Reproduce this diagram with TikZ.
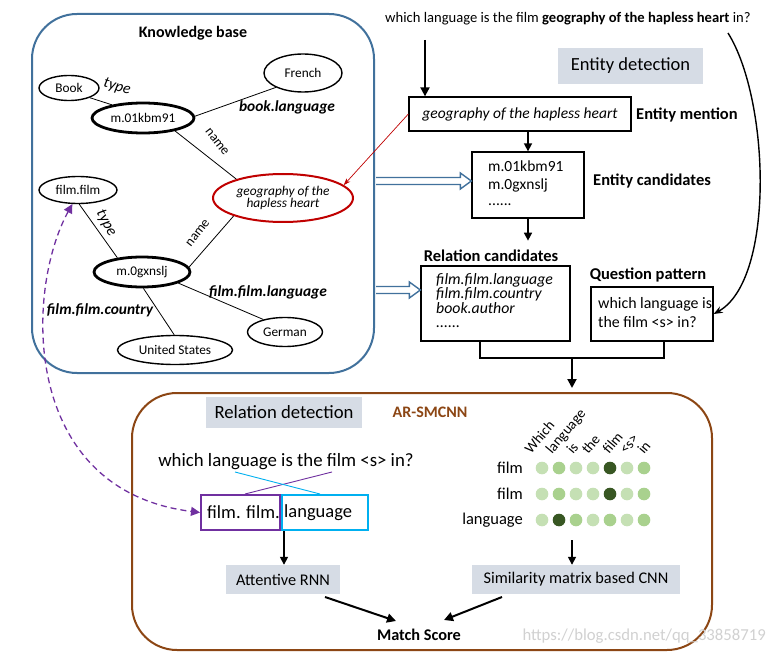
\documentclass[tikz,border=0pt]{standalone}
\usepackage{fontspec}
\setmainfont{Carlito}
\usetikzlibrary{shapes.geometric,arrows.meta,calc}
\newcommand\fsz[1]{\fontsize{#1}{#1}\selectfont}
\definecolor{kbblue}{RGB}{65,113,156}
\definecolor{brownline}{RGB}{140,70,20}
\definecolor{grayfill}{RGB}{214,220,229}
\definecolor{geored}{RGB}{192,0,0}
\definecolor{purp}{RGB}{112,48,160}
\definecolor{cyanb}{RGB}{0,176,240}
\definecolor{dlight}{RGB}{197,224,180}
\definecolor{dmed}{RGB}{169,209,142}
\definecolor{ddark}{RGB}{56,87,35}
\tikzset{
  ell/.style={ellipse,draw,line width=1.4,inner sep=0pt,font=\fsz{13.3}},
  thickell/.style={ell,line width=2.8},
  kbedge/.style={line width=0.8},
  blackbox/.style={draw,line width=1.3,inner sep=0pt},
  graybox/.style={fill=grayfill,inner sep=0pt},
  bigarrow/.style={line width=2,-{Triangle[length=9pt,width=9pt]}},
  midarrow/.style={line width=1.6,-{Triangle[length=8pt,width=8pt]}},
  hollow/.style={draw=kbblue,line width=1.4,fill=white},
  lbl/.style={font=\fsz{16.5}\bfseries,inner sep=0pt},
  edgelbl/.style={font=\fsz{15.4}\bfseries\itshape,inner sep=0pt},
}
\newcommand\hollowarrow[2]{%
  \filldraw[hollow] let \p1=(#1), \p2=(#2) in
   (\x1+1pt,\y1+3.5pt) -- (\x2-11pt,\y1+3.5pt) -- (\x2-11pt,\y1+8pt) -- (\x2,\y1)
   -- (\x2-11pt,\y1-8pt) -- (\x2-11pt,\y1-3.5pt) -- (\x1+1pt,\y1-3.5pt);}
\begin{document}
\begin{tikzpicture}[x=1pt,y=-1pt]
\useasboundingbox[fill=white] (0,0) rectangle (774,655);

% ---------------- Knowledge base ----------------
\node[draw=kbblue,line width=2,rounded corners=45,minimum width=342,minimum height=359,inner sep=0pt] (kb) at (203,193.5) {};
\node[font=\fsz{16}\bfseries,inner sep=0pt] (kbt) at (193,33) {Knowledge base};

\node[ell,minimum width=60,minimum height=25] (book) at (69,88) {Book};
\node[ell,minimum width=78,minimum height=38] (french) at (303,73) {French};
\node[thickell,minimum width=102,minimum height=30] (m1) at (143,118) {m.01kbm91};
\node[ell,draw=geored,line width=2,minimum width=140,minimum height=48,align=center,font=\fsz{13.4}\itshape] (geo) at (283,198) {geography of the\\[-0.7pt]hapless heart};
\node[ell,minimum width=78,minimum height=27] (ff) at (78,190) {film.film};
\node[thickell,minimum width=96,minimum height=30] (m2) at (142,272) {m.0gxnslj};
\node[ell,minimum width=75,minimum height=29] (german) at (285,332) {German};
\node[ell,minimum width=115,minimum height=29] (us) at (175,350) {United States};

\draw[kbedge] (book.-25) -- (m1.157);
\draw[kbedge] (m1.2) -- (french.208);
\draw[kbedge] (m1.-22) -- (geo.158);
\draw[kbedge] (ff.-85) -- (m2.150);
\draw[kbedge] (m2.6) -- (geo.200);
\draw[kbedge] (m2.-17) -- (german.150);
\draw[kbedge] (m2.-85) -- (us.93);

\node[font=\fsz{15.5}\itshape,rotate=-15,inner sep=0pt] (t1) at (117,87) {type};
\node[edgelbl] (bl) at (287,107) {book.language};
\node[font=\fsz{13.5},rotate=-52,inner sep=0pt] (n1) at (217,142) {name};
\node[font=\fsz{15.5}\itshape,rotate=-62,inner sep=0pt] (t2) at (106,223) {type};
\node[font=\fsz{13.5},rotate=52,inner sep=0pt] (n2) at (198,233) {name};
\node[edgelbl] (ffl) at (268,292) {film.film.language};
\node[edgelbl] (ffc) at (100,310) {film.film.country};

% ---------------- Entity detection ----------------
\node[anchor=west,font=\fsz{14.6},inner sep=0pt] (q) at (385,19) {which language is the film \textbf{geography of the hapless heart} in?};
\coordinate (qd) at (425,40);
\node[graybox,minimum width=145,minimum height=36,font=\fsz{18.5}] (ed) at (630.5,66) {Entity detection};
\node[blackbox,minimum width=222,minimum height=34,font=\fsz{15.5}\itshape] (em) at (520,114) {geography of the hapless heart};
\node[lbl,anchor=west] (eml) at (636,115) {Entity mention};
\node[blackbox,minimum width=112,minimum height=66] (ec) at (528,185) {};
\node[anchor=north west,font=\fsz{15.5},align=left,inner sep=0pt] (ect) at (488,161) {m.01kbm91\\[2.5pt]m.0gxnslj\\[0pt]......};
\node[lbl,anchor=west] (ecl) at (593,181) {Entity candidates};
\node[lbl] (rcl) at (491,256) {Relation candidates};
\node[blackbox,minimum width=149,minimum height=75] (rc) at (495.5,303.5) {};
\node[anchor=north west,font=\fsz{15.8}\itshape,align=left,inner sep=0pt] (rct) at (436,273) {film.film.language\\[-1.3pt]film.film.country\\[-1.3pt]book.author\\[-1pt]......};
\node[lbl] (qpl) at (648,275) {Question pattern};
\node[blackbox,minimum width=122,minimum height=54] (qp) at (652,314) {};
\node[anchor=north west,font=\fsz{15.9},align=left,inner sep=0pt] (qpt) at (598,297) {which language is\\[3pt]the film <s> in?};

\draw[bigarrow] (qd) -- (em.north -| qd);
\draw[midarrow] (em.south -| ec.north) -- (ec.north);
\draw[midarrow] (ec.south) -- ++(0,22);
\draw[line width=0.7,geored,-{Stealth[length=7pt,width=5pt]}] (em.west) -- (geo.12);
\coordinate (qr) at (728,33);
\draw[line width=1.4,-{Stealth[length=9pt,width=7pt]}] (qr) .. controls (770,100) and (775,280) .. (qp.east);
\hollowarrow{kb.east |- 0,181}{ec.west |- 0,181}
\hollowarrow{kb.east |- 0,290}{rc.west |- 0,290}

\coordinate (bm) at (572,358);
\draw[line width=2.8] (rc.south -| 480,0) -- (480,358) -- (664,358) -- (qp.south -| 664,0);
\draw[bigarrow] (bm) -- (572,388);

% ---------------- Relation detection ----------------
\node[draw=brownline,line width=2,rounded corners=45,minimum width=580,minimum height=257,inner sep=0pt] (rd) at (422,521.5) {};
\node[graybox,minimum width=156,minimum height=31,font=\fsz{18.7}] (rdt) at (284,412) {Relation detection};
\node[font=\fsz{16}\bfseries,text=brownline,inner sep=0pt] (ar) at (430,412) {AR-SMCNN};
\node[font=\fsz{18.8},inner sep=0pt] (bq) at (286,462) {which language is the film <s> in?};
\node[draw=purp,line width=2,minimum width=79,minimum height=35,inner sep=0pt] (pb) at (240.5,512.5) {};
\node[anchor=west,font=\fsz{18.5},inner sep=0pt] (pbt) at (207,512.5) {film. film.};
\node[draw=cyanb,line width=2,minimum width=86,minimum height=35,inner sep=0pt] (cb) at (325,512.5) {};
\node[anchor=west,font=\fsz{18.5},inner sep=0pt] (cbt) at (284,512.5) {language};
\draw[purp,line width=0.9] (pb.north -| 245,0) -- (332,472);
\draw[cyanb,line width=0.9] (235,472) -- (cb.north -| 320,0);
\draw[purp,line width=1.3,dashed,dash pattern=on 6pt off 4pt,{Triangle[length=9pt,width=9pt]}-{Triangle[length=9pt,width=9pt]}] (ff.-112) .. controls (25,290) and (20,490) .. (pb.west);

\node[graybox,minimum width=114,minimum height=29,font=\fsz{16.3}] (arnn) at (283,579.5) {Attentive RNN};
\node[graybox,minimum width=208,minimum height=29,font=\fsz{16.3}] (smc) at (576,579.5) {Similarity matrix based CNN};
\node[font=\fsz{16.3}\bfseries,inner sep=0pt] (ms) at (419,635) {Match Score};
\draw[midarrow] (pb.south -| 284,0) -- (arnn.north -| 284,0);
\draw[midarrow] (572,540) -- (smc.north -| 572,0);
\draw[line width=2,-{Triangle[length=9pt,width=9pt]}] (325,597) -- (396,621);
\draw[line width=2,-{Triangle[length=9pt,width=9pt]}] (502,597) -- (444,620);

% similarity matrix
\node[anchor=east,font=\fsz{16.5},inner sep=0pt] (r1) at (523,468) {film};
\node[anchor=east,font=\fsz{16.5},inner sep=0pt] (r2) at (523,494) {film};
\node[anchor=east,font=\fsz{16.5},inner sep=0pt] (r3) at (523,520) {language};
\foreach \c [count=\i] in {dlight,dmed,dlight,dlight,ddark,dlight,dmed}
  \fill[\c] ({542+17*(\i-1)},468) circle (6.3);
\foreach \c [count=\i] in {dlight,dmed,dlight,dlight,ddark,dlight,dmed}
  \fill[\c] ({542+17*(\i-1)},494) circle (6.3);
\foreach \c [count=\i] in {dlight,ddark,dmed,dlight,dmed,dlight,dmed}
  \fill[\c] ({542+17*(\i-1)},520) circle (6.3);
\foreach \w/\dx [count=\i] in {Which/-11,language/-7,is/-3,the/-5,film/-1,<s>/-1,in/0}
  \node[rotate=50,anchor=base west,font=\fsz{14.5},inner sep=0pt] (c\i) at ({542+17*(\i-1)+\dx},455) {\w};

\node[anchor=east,font=\fsz{16.7},text=black!18,inner sep=0pt] (wm) at (766,636) {https://blog.csdn.net/qq\_33858719};
\end{tikzpicture}
\end{document}
